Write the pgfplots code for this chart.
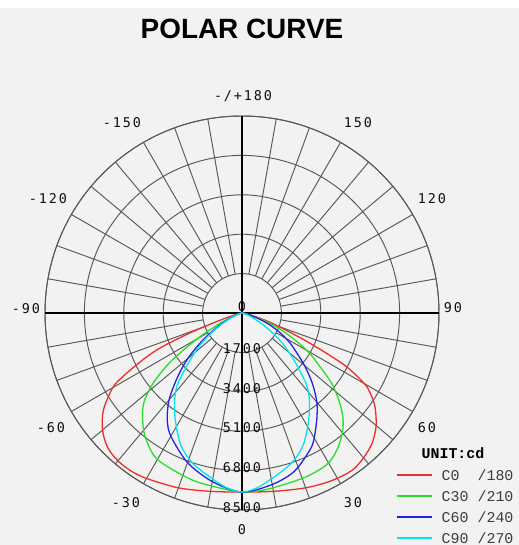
\documentclass[border=0pt]{standalone}
\usepackage{pgfplots}
\pgfplotsset{compat=1.18}
\usepackage{pgfplotstable}
\usepgfplotslibrary{polar}
\usepackage{fontspec}
\setmainfont{Liberation Sans}
\newfontfamily\labfont[LetterSpace=14]{DejaVu Sans Mono}
\newfontfamily\legfont{Liberation Mono}
\definecolor{bg}{RGB}{242,242,242}
\definecolor{gridc}{RGB}{88,88,88}
\definecolor{labc}{RGB}{15,15,15}
\definecolor{legc}{RGB}{60,60,60}
\definecolor{cred}{RGB}{238,45,45}
\definecolor{cgreen}{RGB}{40,222,40}
\definecolor{cblue}{RGB}{35,35,222}
\definecolor{ccyan}{RGB}{0,228,238}

% gamma (deg, 0 = straight down) and intensity (cd)
\pgfplotstableread{
g I
-90 0
-80 86
-76 258
-73 644
-71 1288
-69 2447
-67 3778
-65 4636
-62 5795
-60 6439
-55 7298
-50 7856
-45 8200
-40 8328
-35 8328
-30 8242
-20 8028
-10 7813
0 7727
10 7813
20 8028
28 8200
35 8285
40 8157
45 7942
50 7556
55 6998
58 6525
60 6096
63 4980
66 3220
69 1932
72 1202
75 601
80 215
90 0
}\redC

\pgfplotstableread{
g I
-90 0
-80 43
-72 258
-68 558
-64 1202
-60 2232
-56 3649
-52 4808
-48 5667
-44 6182
-38 6783
-30 7298
-17 7513
-8 7599
0 7727
8 7685
19 7599
25 7556
30 7470
35 7169
40 6740
44 6268
48 5624
52 4894
55.5 4078
59 3434
62 2790
66 1975
69 1417
72 859
76 386
80 129
90 0
}\greenC

\pgfplotstableread{
g I
-90 0
-80 21
-75 86
-70 301
-65 687
-60 1288
-55 2104
-50 3048
-45 3950
-40 4894
-35 5624
-30 6139
-20 6869
-10 7384
0 7727
10 7513
18 7212
25 6697
29 6354
35 5624
40 5023
45 4293
50 3520
55 2790
58 2447
62 1932
67 1288
72 644
76 258
80 86
90 0
}\blueC

\pgfplotstableread{
g I
-90 0
-80 21
-75 86
-70 301
-66 515
-62 902
-58 1417
-54 2061
-50 2662
-46 3349
-42 4164
-38 4722
-34 5195
-30 5667
-25 6268
-20 6697
-15 6998
-6 7513
0 7727
6 7513
15 6998
20 6697
25 6268
30 5667
34 5195
38 4722
42 4164
46 3349
50 2662
54 2061
58 1417
62 902
66 515
70 301
75 86
80 21
90 0
}\cyanC

\begin{document}
\begin{tikzpicture}
\useasboundingbox (0,0) rectangle (519bp,545bp);
\fill[white] (0,0) rectangle (519bp,545bp);
\fill[bg] (0,0) rectangle (519bp,537bp);
\node[font=\bfseries\fontsize{28}{32}\selectfont] at (242bp,516bp) {POLAR CURVE};
\begin{polaraxis}[
  at={(242bp,232bp)}, anchor=center,
  scale only axis, width=394bp, height=394bp,
  xmin=0, xmax=360, ymin=0, ymax=8500,
  xtick=\empty,
  ytick={1700,3400,5100,6800,8500},
  yticklabels={},
  ymajorgrids=true,
  major grid style={gridc, line width=0.95bp},
  axis line style={gridc, line width=0.95bp},
  major tick length=0pt,
  clip=false,
]
\pgfplotsinvokeforeach{0,10,...,350}{\draw[gridc,line width=0.95bp] (axis cs:#1,1700) -- (axis cs:#1,8500);}
\draw[black,line width=1.5bp] (axis cs:0,8500) -- (axis cs:180,8500);
\draw[black,line width=1.5bp] (axis cs:90,8500) -- (axis cs:270,8500);
\addplot[cred, line width=1.3bp, smooth] table[x expr=\thisrow{g}-90, y=I] {\redC};
\addplot[cgreen, line width=1.3bp, smooth] table[x expr=\thisrow{g}-90, y=I] {\greenC};
\addplot[cblue, line width=1.3bp, smooth] table[x expr=\thisrow{g}-90, y=I] {\blueC};
\addplot[ccyan, line width=1.3bp, smooth] table[x expr=\thisrow{g}-90, y=I] {\cyanC};
\node[labc, font=\labfont\fontsize{13.5}{15}\selectfont, yshift=6.5bp] at (axis cs:270,0) {0};
\node[labc, font=\labfont\fontsize{13.5}{15}\selectfont, yshift=3.5bp] at (axis cs:270,1700) {1700};
\node[labc, font=\labfont\fontsize{13.5}{15}\selectfont, yshift=3.5bp] at (axis cs:270,3400) {3400};
\node[labc, font=\labfont\fontsize{13.5}{15}\selectfont, yshift=3.5bp] at (axis cs:270,5100) {5100};
\node[labc, font=\labfont\fontsize{13.5}{15}\selectfont, yshift=2.5bp] at (axis cs:270,6800) {6800};
\node[labc, font=\labfont\fontsize{13.5}{15}\selectfont, yshift=2bp] at (axis cs:270,8500) {8500};
\end{polaraxis}
\begin{scope}[every node/.style={labc, font=\labfont\fontsize{13.5}{15}\selectfont}]
\node at (243bp,449bp) {-/+180};
\node at (122bp,422bp) {-150};
\node at (358bp,422bp) {150};
\node at (48bp,346bp) {-120};
\node at (432bp,346bp) {120};
\node at (26bp,236bp) {-90};
\node at (453bp,237bp) {90};
\node at (51bp,117bp) {-60};
\node at (427bp,117bp) {60};
\node at (126bp,42bp) {-30};
\node at (353bp,42bp) {30};
\node at (242bp,15bp) {0};
\end{scope}
% legend
\node[font=\legfont\bfseries\fontsize{15}{17}\selectfont, text=black] at (453bp,92bp) {UNIT:cd};
\draw[cred, line width=2bp] (397bp,70bp) -- (432bp,70bp);
\draw[cgreen, line width=2bp] (397bp,49.3bp) -- (432bp,49.3bp);
\draw[cblue, line width=2bp] (397bp,28.3bp) -- (432bp,28.3bp);
\draw[ccyan, line width=2bp] (397bp,7.3bp) -- (432bp,7.3bp);
\begin{scope}[every node/.style={legc, anchor=west, inner sep=0pt, font=\legfont\fontsize{15}{17}\selectfont}]
\node at (441.5bp,70bp) {C0\phantom{0} /180};
\node at (441.5bp,49.3bp) {C30 /210};
\node at (441.5bp,28.3bp) {C60 /240};
\node at (441.5bp,7.3bp) {C90 /270};
\end{scope}
\end{tikzpicture}
\end{document}
